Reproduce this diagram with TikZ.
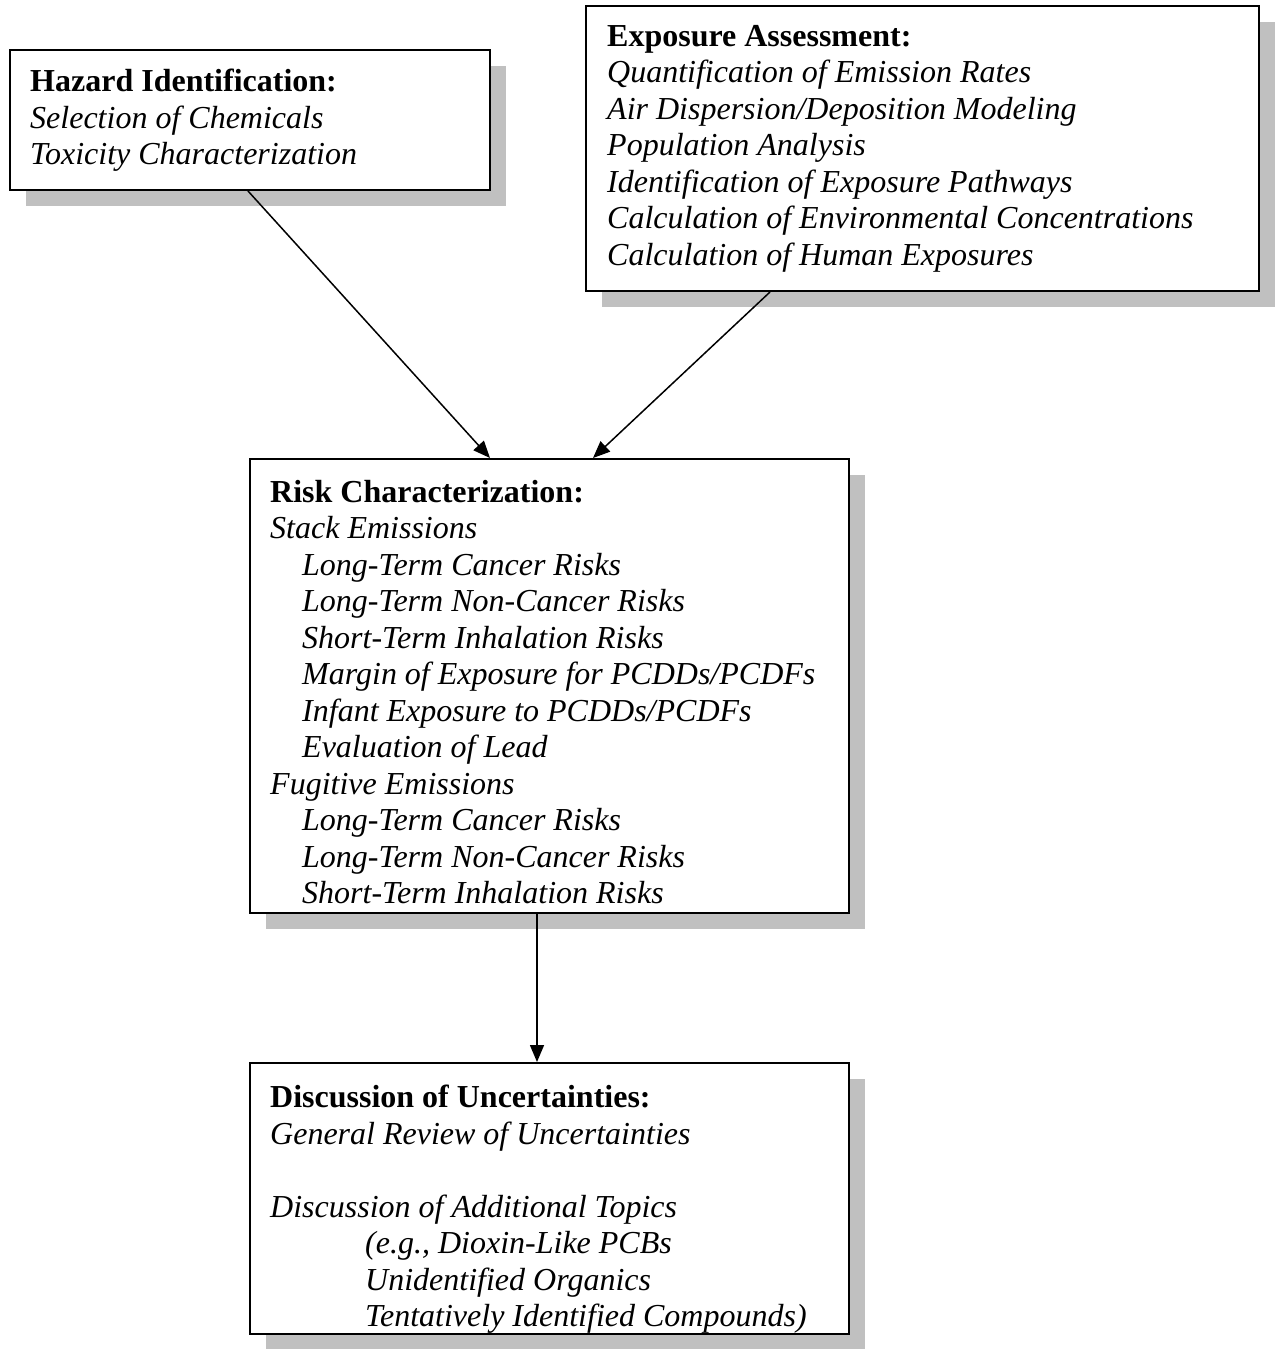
\documentclass[tikz,border=0pt]{standalone}
\usepackage{fontspec}
\setmainfont{Liberation Serif}
\usetikzlibrary{shadows,arrows.meta,calc}
\definecolor{shadowgray}{RGB}{192,192,192}
\begin{document}
\begin{tikzpicture}[x=1pt,y=-1pt,
  box/.style={draw=black, line width=2pt, fill=white, anchor=north west, inner sep=0pt,
    drop shadow={shadow xshift=16pt, shadow yshift=-16pt, fill=shadowgray, opacity=1}},
  txt/.style={anchor=north west, inner sep=0pt, align=left, font=\fontsize{32}{36.5}\selectfont},
  arr/.style={line width=1.5pt, -{Triangle[length=17pt,width=14pt]}}]
\useasboundingbox (0,0) rectangle (1277,1349);

\node[box, minimum width=480pt, minimum height=140pt] (haz) at (9,49) {};
\node[box, minimum width=673pt, minimum height=285pt] (exp) at (585,5) {};
\node[box, minimum width=599pt, minimum height=454pt] (risk) at (249,458) {};
\node[box, minimum width=599pt, minimum height=271pt] (disc) at (249,1062) {};

\node[txt] (hazt) at (30,69) {\textbf{Hazard Identification:}\\
\textit{Selection of Chemicals}\\
\textit{Toxicity Characterization}};

\node[txt] (expt) at (607,25) {\textbf{Exposure Assessment:}\\
\textit{Quantification of Emission Rates}\\
\textit{Air Dispersion/Deposition Modeling}\\
\textit{Population Analysis}\\
\textit{Identification of Exposure Pathways}\\
\textit{Calculation of Environmental Concentrations}\\
\textit{Calculation of Human Exposures}};

\node[txt] (riskt) at (270,480) {\textbf{Risk Characterization:}\\
\textit{Stack Emissions}\\
\hspace*{32pt}\textit{Long-Term Cancer Risks}\\
\hspace*{32pt}\textit{Long-Term Non-Cancer Risks}\\
\hspace*{32pt}\textit{Short-Term Inhalation Risks}\\
\hspace*{32pt}\textit{Margin of Exposure for PCDDs/PCDFs}\\
\hspace*{32pt}\textit{Infant Exposure to PCDDs/PCDFs}\\
\hspace*{32pt}\textit{Evaluation of Lead}\\
\textit{Fugitive Emissions}\\
\hspace*{32pt}\textit{Long-Term Cancer Risks}\\
\hspace*{32pt}\textit{Long-Term Non-Cancer Risks}\\
\hspace*{32pt}\textit{Short-Term Inhalation Risks}};

\node[txt] (disct) at (270,1085) {\textbf{Discussion of Uncertainties:}\\
\textit{General Review of Uncertainties}\\
\mbox{}\\
\textit{Discussion of Additional Topics}\\
\hspace*{95pt}\textit{(e.g., Dioxin-Like PCBs}\\
\hspace*{95pt}\textit{Unidentified Organics}\\
\hspace*{95pt}\textit{Tentatively Identified Compounds)}};

\draw[arr] ($(haz.south west)+(239,0)$) -- ($(risk.north west)+(241,0)$);
\draw[arr] ($(exp.south west)+(185,0)$) -- ($(risk.north west)+(344,0)$);
\draw[arr] ($(risk.south west)+(288,0)$) -- ($(disc.north west)+(288,0)$);
\end{tikzpicture}
\end{document}
